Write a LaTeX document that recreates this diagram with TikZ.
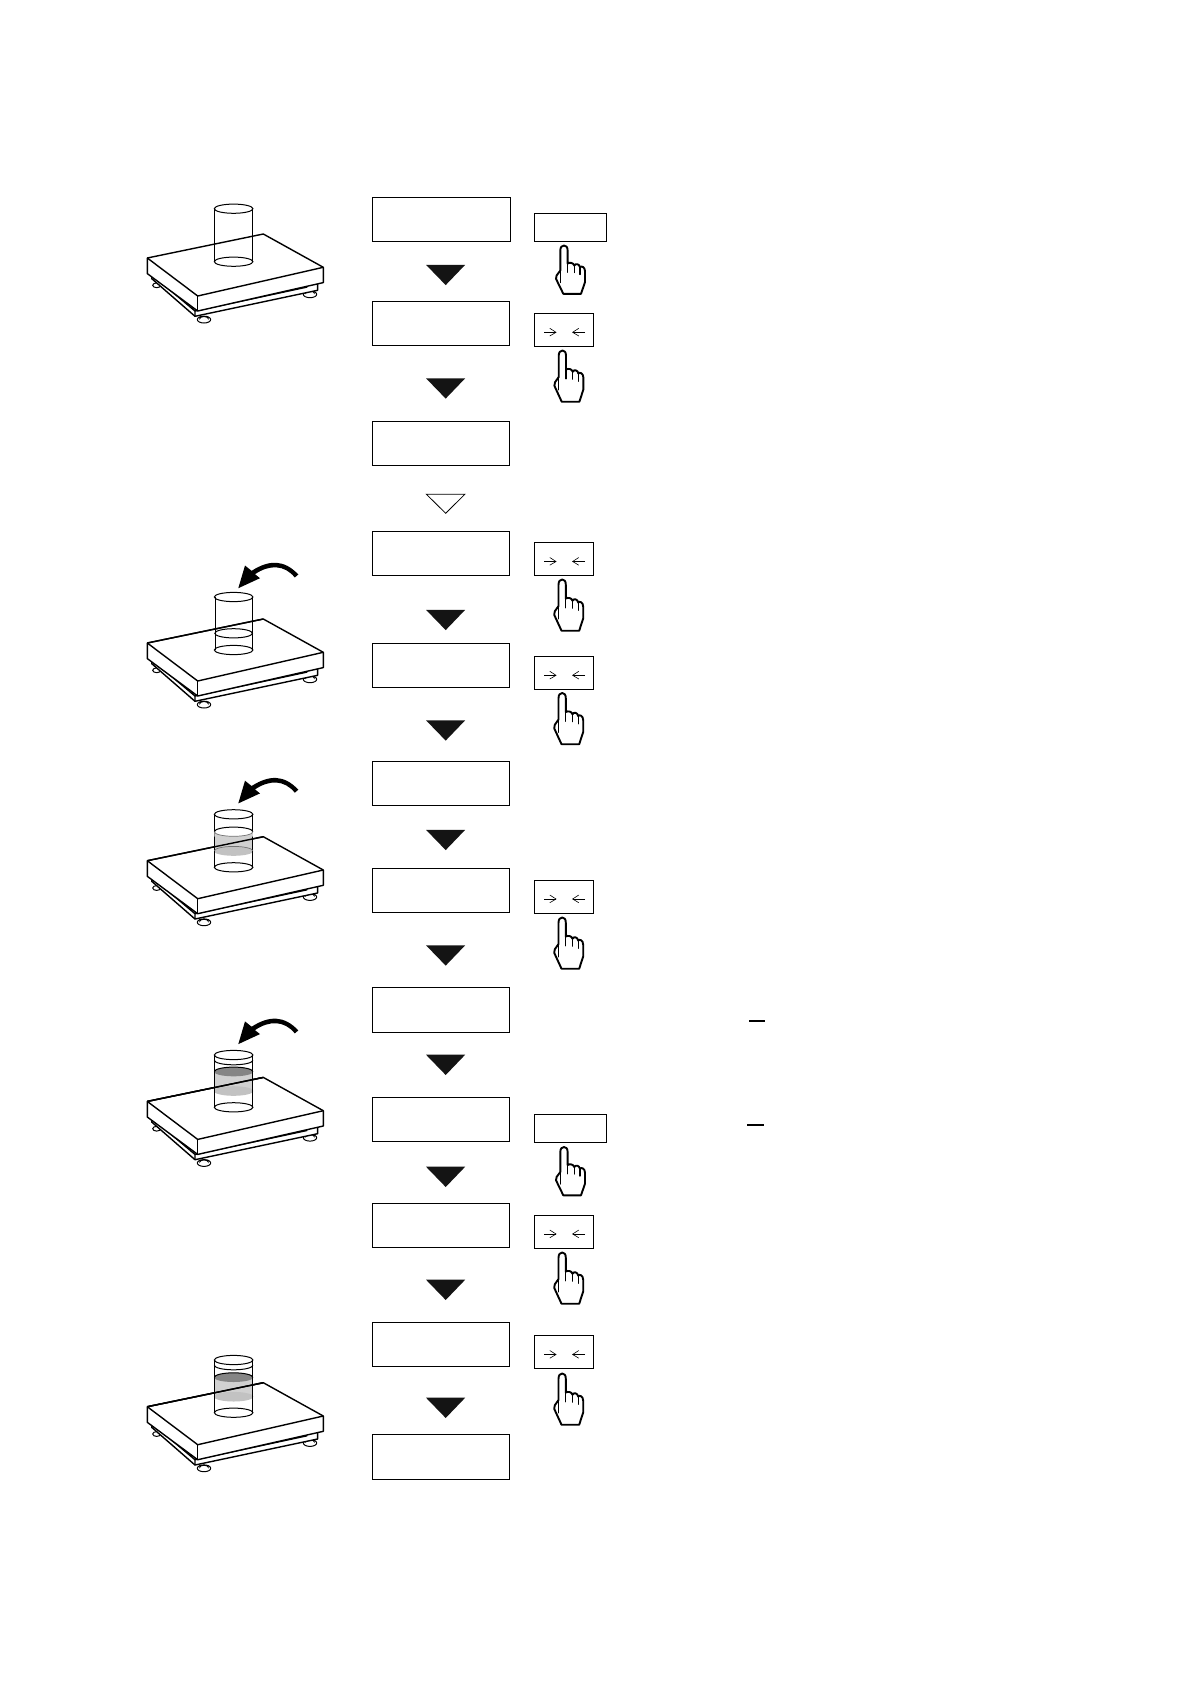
\documentclass[tikz,border=0pt]{standalone}
\tikzset{
  mainbox/.style={draw=black,line width=0.9pt,fill=white,anchor=north west,inner sep=0pt,outer sep=0pt},
  keybox/.style={mainbox},
  solidtri/.style={fill=black!92,draw=none},
  opentri/.style={draw=black,line width=0.8pt,fill=white,line join=miter},
  outline/.style={draw=black,line width=1.4pt,line join=round},
  thinline/.style={draw=black,line width=1pt},
  softline/.style={draw=black!55,line width=0.7pt},
  handline/.style={draw=black,line width=1.9pt,line join=round,line cap=round},
  keyarrow/.style={draw=black,line width=0.6pt},
  basescale/.pic={
    % feet
    \draw[thinline,fill=white] (9.4,27.3) circle[x radius=4,y radius=2.4];
    \draw[thinline,fill=white] (56.7,61.6) circle[x radius=6.7,y radius=3.4];
    \draw[thinline] (52.5,58.5) -- (52.5,60.5) arc[start angle=180,end angle=360,x radius=4.2,y radius=2] -- (60.9,58.5);
    \draw[thinline,fill=white] (162.7,36.3) circle[x radius=6.7,y radius=3.4];
    \draw[thinline] (158.5,32.5) -- (158.5,35) arc[start angle=180,end angle=360,x radius=4.2,y radius=2] -- (166.9,32.5);
    % lower plate
    \path[outline,fill=white] (4.4,14) -- (4.4,20.6) -- (47.7,58.3) -- (170.3,32.3) -- (170.3,24) -- cycle;
    \draw[outline] (4.4,16.6) -- (47.7,53) -- (47.7,58.3);
    \draw[outline] (47.7,53) -- (160,29);
    % body
    \path[outline,fill=white] (0,0) -- (116,-24) -- (176,9.3) -- (176,24.6) -- (50.4,53) -- (0,15.6) -- cycle;
    \draw[outline] (0,0) -- (50.4,38) -- (176,9.3);
    \draw[outline] (50.4,38) -- (50.4,53);
  },
  pushhand/.pic={
    \draw[handline,fill=white] (-3,25) -- (-3,5) .. controls (-3,1.5) and (-1.2,0) .. (0.7,0)
      .. controls (2.8,0) and (4.3,1.5) .. (4.3,5) -- (4.3,18)
      .. controls (6,16.8) and (10,17) .. (11,20)
      .. controls (12.5,17.5) and (16,18.5) .. (16.7,21.7)
      .. controls (18,20) and (21.7,21.5) .. (21.7,25.7)
      -- (21.7,36.7) -- (17.7,48.3) -- (0,48.3) -- (-7.3,33.3) -- (-6.7,30) -- cycle;
    \draw[handline,line width=1.3pt] (-3,25) -- (-3,37);
    \draw[handline,line width=1.3pt] (4.3,18) -- (4.3,26.7);
    \draw[handline,line width=1.3pt] (11,20) -- (11,27);
    \draw[handline,line width=1.3pt] (16.7,21.7) -- (16.7,29);
  },
  curvearrow/.pic={
    \fill[black] (151,-71) .. controls (137,-86) and (122,-86) .. (104.3,-74.7)
      -- (97.7,-80) -- (91,-57.3) -- (112.7,-67.3) -- (107.7,-71.3)
      .. controls (122,-81) and (137,-81) .. (147.5,-68) -- cycle;
  },
  arrowglyphs/.pic={
    \draw[keyarrow] (9.7,19) -- (21.7,19);
    \draw[keyarrow] (15.5,15) -- (21.7,19) -- (15.5,22.7);
    \draw[keyarrow] (50.7,19) -- (38.3,19);
    \draw[keyarrow] (44.5,15) -- (38.3,19) -- (44.5,22.7);
  }
}
\newcommand{\topcyl}[2]{% y of top, y of bottom
  \draw[thinline] (67,#1) -- (67,#2);
  \draw[thinline] (105.6,#1) -- (105.6,#2);
  \draw[thinline,fill=white] (86.3,#1) circle[x radius=19.3,y radius=4.6];
  \draw[thinline,fill=white] (86.3,#2) circle[x radius=19.3,y radius=4.6];
}
\newcommand{\grayband}[2]{%
  \fill[black!18] (67,#1) rectangle (105.6,#2);
  \fill[black!24] (86.3,#2) circle[x radius=19.8,y radius=4.8];
  \draw[outline] (0,0) -- (116,-24);
}
\begin{document}
\begin{tikzpicture}[x=1pt,y=-1pt]
\useasboundingbox (0,0) rectangle (1191,1684);
\fill[white] (0,0) rectangle (1191,1684);
% main column of display boxes
\node[mainbox,minimum width=138pt,minimum height=44pt] (d1) at (372.6,197) {};
\node[mainbox,minimum width=137pt,minimum height=44.4pt] (d2) at (372.6,301) {};
\node[mainbox,minimum width=137pt,minimum height=44.4pt] (d3) at (372.6,421) {};
\node[mainbox,minimum width=137pt,minimum height=44.2pt] (d4) at (372.6,531) {};
\node[mainbox,minimum width=137pt,minimum height=44.4pt] (d5) at (372.6,643) {};
\node[mainbox,minimum width=137pt,minimum height=44.4pt] (d6) at (372.6,761.5) {};
\node[mainbox,minimum width=137pt,minimum height=44.4pt] (d7) at (372.6,868) {};
\node[mainbox,minimum width=137pt,minimum height=45.4pt] (d8) at (372.6,987) {};
\node[mainbox,minimum width=137pt,minimum height=44.4pt] (d9) at (372.6,1097) {};
\node[mainbox,minimum width=137pt,minimum height=44.4pt] (d10) at (372.6,1203) {};
\node[mainbox,minimum width=137pt,minimum height=44.4pt] (d11) at (372.6,1322) {};
\node[mainbox,minimum width=137pt,minimum height=45.4pt] (d12) at (372.6,1434) {};
% triangles
\foreach \ty in {264.8,378.3,609.8,720.3,829.8,945.3,1054.7,1166.7,1279.7,1397.7}{
  \fill[solidtri] (426,\ty) -- (465.2,\ty) -- (445.7,\ty+20.3) -- cycle;
}
\draw[opentri] (426.4,494.3) -- (464.8,494.3) -- (445.7,513.3) -- cycle;
% key boxes
\node[keybox,minimum width=72.4pt,minimum height=28pt] (k1) at (534.3,213.3) {};
\node[keybox,minimum width=72.4pt,minimum height=28pt] (k6) at (534.3,1114.3) {};
\node[keybox,minimum width=59.2pt,minimum height=33pt] (k2) at (534.3,313.3) {};
\node[keybox,minimum width=59.2pt,minimum height=33pt] (k3) at (534.3,542.5) {};
\node[keybox,minimum width=59.2pt,minimum height=33pt] (k4) at (534.3,656.3) {};
\node[keybox,minimum width=59.2pt,minimum height=33pt] (k5) at (534.3,880) {};
\node[keybox,minimum width=59.2pt,minimum height=33pt] (k7) at (534.3,1215) {};
\node[keybox,minimum width=59.2pt,minimum height=33pt] (k8) at (534.3,1335.5) {};
\foreach \ky in {313.3,542.5,656.3,880,1215,1335.5}{
  \pic at (534.3,\ky) {arrowglyphs};
}
% hands
\pic at (563.3,245.5) {pushhand};
\pic[yscale=1.06] at (561.7,350.5) {pushhand};
\pic[yscale=1.06] at (561.5,579.5) {pushhand};
\pic[yscale=1.06] at (561.5,693) {pushhand};
\pic[yscale=1.06] at (561.5,917.5) {pushhand};
\pic at (563.3,1147) {pushhand};
\pic[yscale=1.06] at (561.5,1252.5) {pushhand};
\pic[yscale=1.06] at (561.5,1373.5) {pushhand};
% dashes
\draw[line width=1.6pt] (749,1020.7) -- (765,1020.7);
\draw[line width=1.6pt] (747,1124.7) -- (763.7,1124.7);
% scale 1
\begin{scope}[shift={(147.3,258)}]
  \pic at (0,0) {basescale};
  \topcyl{-49.3}{3.7}
\end{scope}
% scale 2
\begin{scope}[shift={(147.3,643)}]
  \pic at (0,0) {basescale};
  \pic at (0,2.5) {curvearrow};
  \draw[outline] (0,0) -- (116,-24);
  \draw[thinline] (68,-46) -- (68,7);
  \draw[thinline] (105.6,-46) -- (105.6,7);
  \draw[thinline] (86.3,-46) circle[x radius=19.3,y radius=4.6];
  \draw[thinline] (86.3,7) circle[x radius=19.3,y radius=4.6];
  \draw[thinline] (86.3,-9.7) circle[x radius=18.8,y radius=4.6];
\end{scope}
% scale 3
\begin{scope}[shift={(147.3,860.7)}]
  \pic at (0,0) {basescale};
  \pic at (0,0) {curvearrow};
  \grayband{-28.3}{-9.7}
  \draw[thinline] (67,-46.4) -- (67,6.6);
  \draw[thinline] (105.6,-46.4) -- (105.6,6.6);
  \draw[thinline] (86.3,-46.4) circle[x radius=19.3,y radius=4.6];
  \draw[thinline] (86.3,6.6) circle[x radius=19.3,y radius=4.6];
  \fill[white] (86.3,-29) circle[x radius=19.3,y radius=4.6];
  \fill[black!18] (67,-29) arc[start angle=180,end angle=360,x radius=19.3,y radius=-4.6] -- (105.6,-24) -- (67,-24) -- cycle;
  \draw[thinline] (67,-29) arc[start angle=180,end angle=360,x radius=19.3,y radius=4.6];
  \draw[softline] (67,-9.7) arc[start angle=180,end angle=360,x radius=19.3,y radius=4.6];
  \draw[softline] (67,-29) arc[start angle=180,end angle=360,x radius=19.3,y radius=-4.6];
\end{scope}
% scale 4
\begin{scope}[shift={(147.3,1101.4)}]
  \pic at (0,0) {basescale};
  \pic at (0,0) {curvearrow};
  \grayband{-29}{-10.4}
  \fill[black!48] (86.3,-29.7) circle[x radius=19.6,y radius=4.6];
  \draw[outline] (0,0) -- (116,-24);
  \draw[thinline] (67,-46.4) -- (67,5.9);
  \draw[thinline] (105.6,-46.4) -- (105.6,5.9);
  \draw[thinline] (86.3,-46.4) circle[x radius=19.3,y radius=4.6];
  \draw[thinline] (86.3,5.9) circle[x radius=19.3,y radius=4.6];
  \draw[thinline] (67,-41.2) arc[start angle=180,end angle=360,x radius=19.3,y radius=-4.6];
  \draw[thinline] (67,-29.7) arc[start angle=180,end angle=360,x radius=19.3,y radius=4.6];
\end{scope}
% scale 5
\begin{scope}[shift={(147.3,1406.7)}]
  \pic at (0,0) {basescale};
  \grayband{-29.3}{-10}
  \fill[black!48] (86.3,-29.3) circle[x radius=19.6,y radius=4.6];
  \draw[outline] (0,0) -- (116,-24);
  \draw[thinline] (67,-46.7) -- (67,6);
  \draw[thinline] (105.6,-46.7) -- (105.6,6);
  \draw[thinline] (86.3,-46.7) circle[x radius=19.3,y radius=4.6];
  \draw[thinline] (86.3,6) circle[x radius=19.3,y radius=4.6];
  \draw[thinline] (67,-41.5) arc[start angle=180,end angle=360,x radius=19.3,y radius=-4.6];
  \draw[thinline] (67,-29.3) arc[start angle=180,end angle=360,x radius=19.3,y radius=4.6];
\end{scope}
\end{tikzpicture}
\end{document}
